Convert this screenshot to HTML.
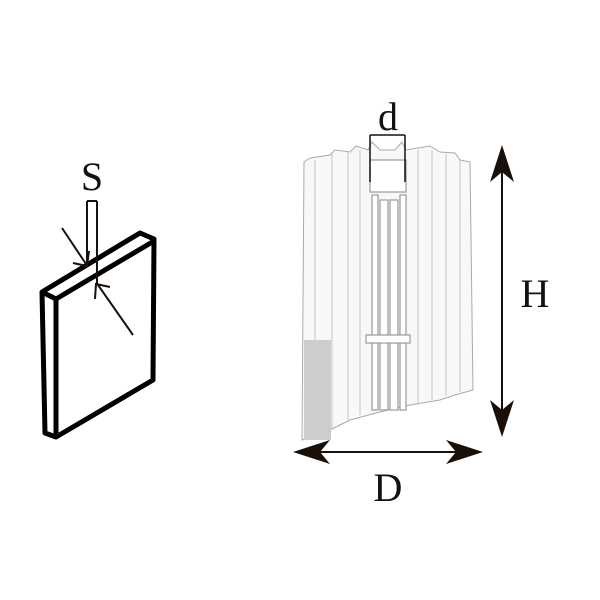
<!DOCTYPE html>
<html><head><style>body{margin:0;background:#fff}svg{display:block}</style></head><body>
<svg width="600" height="600" viewBox="0 0 600 600" xmlns="http://www.w3.org/2000/svg">
<rect width="600" height="600" fill="#fff"/>
<!-- plate -->
<g fill="none" stroke="#000" stroke-width="5" stroke-linejoin="round">
<polygon points="42,292 140,233 154,239 153,380 56,437 45,433"/>
<polyline points="42,292 56,299 154,241"/>
<line x1="56" y1="299" x2="56" y2="437"/>
</g>
<g stroke="#1a1008" stroke-width="2" fill="none">
<line x1="62" y1="228" x2="86" y2="264"/>
<line x1="133" y1="335" x2="98" y2="285"/>
<polyline points="73,263 87,266 89,251"/>
<polyline points="95,299 96,284 110,287"/>
<line x1="87" y1="201" x2="87" y2="266"/>
<line x1="97" y1="201" x2="97" y2="285"/>
<line x1="87" y1="201" x2="97" y2="201"/>
</g>
<text x="92" y="190" font-family="Liberation Serif, serif" font-size="40" text-anchor="middle" fill="#111">S</text>
<!-- cylinder -->
<g stroke="#aaa" stroke-width="1" fill="#f8f8f8">
<polygon points="304,162 310,158 330,155 335,150 350,152 356,146 368,150 372,142 380,150 395,150 402,142 406,150 418,148 430,146 440,152 455,153 460,160 470,162 473,390 455,395 440,400 410,405 380,412 350,420 330,430 302,440"/>
</g>
<g stroke="#c4c4c4" stroke-width="1">
<line x1="315" y1="160" x2="315" y2="438"/>
<line x1="332" y1="154" x2="332" y2="430"/>
<line x1="348" y1="152" x2="348" y2="420"/>
<line x1="360" y1="150" x2="360" y2="415"/>
<line x1="418" y1="150" x2="418" y2="403"/>
<line x1="432" y1="150" x2="432" y2="400"/>
<line x1="446" y1="154" x2="446" y2="396"/>
<line x1="460" y1="160" x2="460" y2="392"/>
</g>
<rect x="304" y="340" width="27" height="100" fill="#cdcdcd"/>
<g stroke="#999" stroke-width="1.2" fill="#fff">
<rect x="370" y="160" width="36" height="32"/>
<rect x="372" y="195" width="6" height="215"/>
<rect x="380" y="200" width="8" height="210"/>
<rect x="390" y="200" width="8" height="210"/>
<rect x="400" y="195" width="6" height="215"/>
<rect x="366" y="335" width="44" height="8"/>
</g>
<g stroke="#1a1008" stroke-width="1.5" fill="none">
<line x1="370" y1="135" x2="405" y2="135"/>
<line x1="370" y1="135" x2="370" y2="182"/>
<line x1="405" y1="135" x2="405" y2="182"/>
</g>
<text x="388" y="130" font-family="Liberation Serif, serif" font-size="40" text-anchor="middle" fill="#111">d</text>
<!-- H arrow -->
<line x1="502" y1="160" x2="502" y2="425" stroke="#1a1008" stroke-width="2"/>
<polygon points="502,145 490,182 502,172 514,182" fill="#1a1008"/>
<polygon points="502,437 490,400 502,410 514,400" fill="#1a1008"/>
<text x="535" y="307" font-family="Liberation Serif, serif" font-size="40" text-anchor="middle" fill="#111">H</text>
<!-- D arrow -->
<line x1="305" y1="452" x2="472" y2="452" stroke="#1a1008" stroke-width="2"/>
<polygon points="293,452 330,440 320,452 330,464" fill="#1a1008"/>
<polygon points="483,452 446,440 456,452 446,464" fill="#1a1008"/>
<text x="388" y="501" font-family="Liberation Serif, serif" font-size="40" text-anchor="middle" fill="#111">D</text>
</svg>
</body></html>
